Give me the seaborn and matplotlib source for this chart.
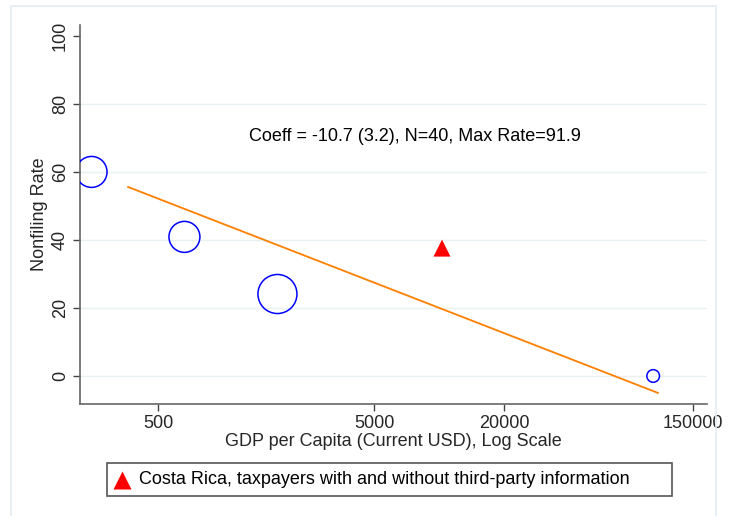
import numpy as np
import pandas as pd
import matplotlib
matplotlib.use('Agg')
import matplotlib.pyplot as plt
import seaborn as sns
from matplotlib.lines import Line2D
from matplotlib.patches import Rectangle

# data
gdp = [245, 660, 1780, 98000]           # GDP per capita, current USD
nonfiling = [60.0, 40.9, 24.1, 0.0]     # nonfiling rate (%)
weights = [497, 497, 790, 83]           # marker area (pt^2), proportional to weight

cr_gdp = [10300]
cr_rate = [37.6]

fit_x = [361, 103300]
fit_y = [55.6, -5.0]

x_ticks = [500, 5000, 20000, 150000]
y_ticks = [0, 20, 40, 60, 80, 100]
note = 'Coeff = -10.7 (3.2), N=40, Max Rate=91.9'
legend_label = 'Costa Rica, taxpayers with and without third-party information'

sns.set_theme(style='white')
plt.rcParams['font.family'] = ['Liberation Sans', 'DejaVu Sans']
FS = 13

W, H = 729, 516
fig = plt.figure(figsize=(W / 100, H / 100), dpi=100)
ax = fig.add_axes([80 / W, 112 / H, 627 / W, 379 / H])

# faint outer frame like the Stata graph region
fig.patches.append(Rectangle((11 / W, -0.02), 705 / W, 1.02 - 6 / H,
                             transform=fig.transFigure, fill=False,
                             edgecolor='#e4ecf0', linewidth=1.2))

ax.set_xscale('log')
ax.set_xlim(216.6, 174000)
ax.set_ylim(-8.24, 103.2)

for g in [0, 20, 40, 60, 80]:
    ax.axhline(g, color='#eaf1f4', linewidth=1.0, zorder=0)

df = pd.DataFrame({'gdp': gdp, 'rate': nonfiling})
sns.scatterplot(data=df, x='gdp', y='rate', s=weights, facecolors='none',
                edgecolor='#0000ff', linewidth=1.1, ax=ax, zorder=3)
sns.lineplot(x=fit_x, y=fit_y, color='#ff7f00', linewidth=1.3, ax=ax, zorder=2)
sns.scatterplot(x=cr_gdp, y=cr_rate, marker='^', s=150, color='#ff0000',
                edgecolor='none', ax=ax, zorder=4)

ax.text(7745, 70.3, note, ha='center', va='center', fontsize=FS, color='black')

ax.set_xticks(x_ticks)
ax.set_xticklabels([str(t) for t in x_ticks])
ax.xaxis.set_minor_locator(matplotlib.ticker.NullLocator())
ax.set_yticks(y_ticks)
ax.set_yticklabels([str(t) for t in y_ticks], rotation=90, va='center')
ax.tick_params(axis='both', length=5, width=1, color='#444444', labelsize=FS,
               direction='out', bottom=True, left=True, pad=3)

for s in ['top', 'right']:
    ax.spines[s].set_visible(False)
for s in ['left', 'bottom']:
    ax.spines[s].set_color('#666666')
    ax.spines[s].set_linewidth(1.2)

ax.set_xlabel('GDP per Capita (Current USD), Log Scale', fontsize=FS)
ax.xaxis.set_label_coords(0.5, (404 - 442) / 379)
ax.xaxis.label.set_verticalalignment('center')
ax.set_ylabel('Nonfiling Rate', fontsize=FS)
ax.yaxis.set_label_coords((39 - 80) / 627, 0.5)
ax.yaxis.label.set_verticalalignment('center')

# legend box drawn by hand (Stata-like, square, below the plot)
fig.patches.append(Rectangle((107 / W, (H - 496) / H), 565 / W, 33 / H,
                             transform=fig.transFigure, fill=False,
                             edgecolor='#555555', linewidth=1.2))
fig.add_artist(Line2D([122 / W], [(H - 480) / H], transform=fig.transFigure,
                      marker='^', color='none', markerfacecolor='#ff0000',
                      markeredgecolor='none', markersize=12.5))
fig.text(139 / W, (H - 479.5) / H, legend_label, ha='left', va='center',
         fontsize=FS, color='black')

fig.savefig('out.png', dpi=100)
